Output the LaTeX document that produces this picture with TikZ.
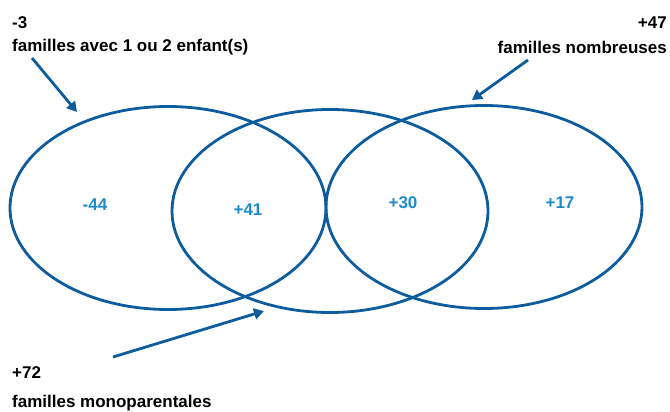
\documentclass[tikz,border=0pt]{standalone}
\usepackage{fontspec}
\setmainfont{Liberation Sans}
\usetikzlibrary{arrows.meta,shapes.geometric}
\definecolor{bleufonce}{HTML}{0D5C9E}
\definecolor{bleuclair}{HTML}{1E8BC9}
\tikzset{
  venn/.style={draw=bleufonce, line width=2.8pt, ellipse, minimum width=316pt, minimum height=203pt, inner sep=0pt},
  valeur/.style={text=bleuclair, font=\bfseries\fontsize{17}{19}\selectfont},
  etiquette/.style={font=\bfseries\fontsize{17}{19}\selectfont, inner sep=0pt},
  fleche/.style={draw=bleufonce, line width=2.8pt, -{Triangle[length=10pt,width=11pt]}}
}
\begin{document}
\begin{tikzpicture}[x=1pt, y=-1pt]
    \useasboundingbox (0,0) rectangle (670,412);
    %ellipses
    \node[venn] (gauche) at (168,208) {};
    \node[venn] (milieu) at (330,211) {};
    \node[venn] (droite) at (484,207) {};

    %valeurs
    \node[valeur] (v1) at (95,205) {-44};
    \node[valeur] (v2) at (248,210) {+41};
    \node[valeur] (v3) at (403,203) {+30};
    \node[valeur] (v4) at (560,203) {+17};

    %etiquettes
    \node[etiquette, anchor=west] (n1) at (12,23) {-3};
    \node[etiquette, anchor=west] (t1) at (12,47) {familles avec 1 ou 2 enfant(s)};
    \node[etiquette, anchor=east] (n2) at (667,23) {+47};
    \node[etiquette, anchor=east] (t2) at (667,47) {familles nombreuses};
    \node[etiquette, anchor=west] (n3) at (12,373) {+72};
    \node[etiquette, anchor=west] (t3) at (12,403) {familles monoparentales};

    %fleches
    \coordinate (d1) at (32,58);
    \coordinate (a1) at (77,112);
    \coordinate (d2) at (528,60);
    \coordinate (a2) at (472,100);
    \coordinate (d3) at (113,357);
    \coordinate (a3) at (264,311);
    \draw[fleche] (d1) -- (a1);
    \draw[fleche] (d2) -- (a2);
    \draw[fleche] (d3) -- (a3);
\end{tikzpicture}
\end{document}
